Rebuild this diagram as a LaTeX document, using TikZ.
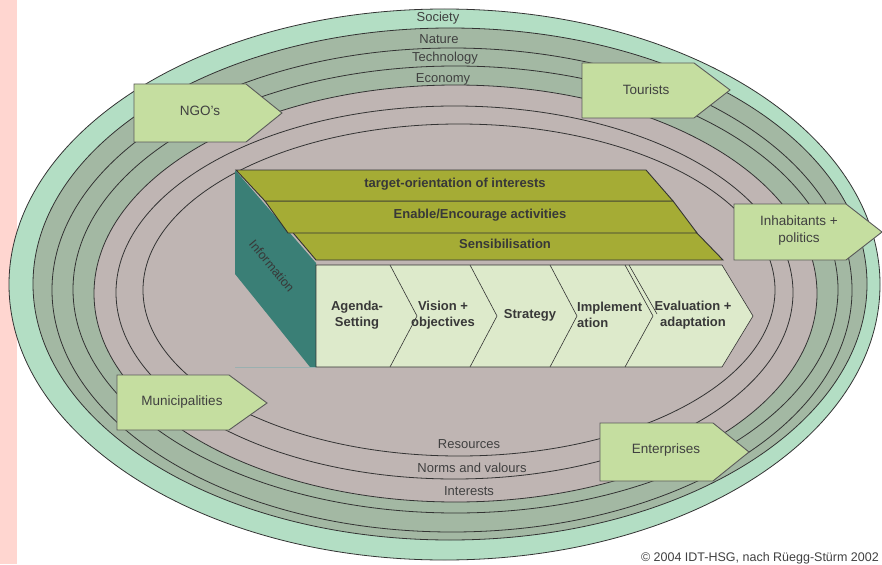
\documentclass[tikz,border=0pt]{standalone}
\usepackage{fontspec}
\setmainfont{Liberation Sans}
\definecolor{pinkstrip}{HTML}{FFD6D0}
\definecolor{ringlight}{HTML}{B3DEC4}
\definecolor{ringdark}{HTML}{A3B8A3}
\definecolor{ringgray}{HTML}{BFB5B3}
\definecolor{boxfill}{HTML}{C5DEA0}
\definecolor{boxline}{HTML}{5A5A5A}
\definecolor{olivefill}{HTML}{A5AC35}
\definecolor{tealfill}{HTML}{3A7F76}
\definecolor{chevfill}{HTML}{DDEACB}
\definecolor{txt}{HTML}{404040}
\definecolor{txtb}{HTML}{383838}
\definecolor{baseclr}{HTML}{9AB0B0}
\begin{document}
\begin{tikzpicture}[x=1pt,y=-1pt,
  ring/.style={draw=black!80,line width=0.8pt},
  lbl/.style={text=txt,font=\fontsize{13}{15}\selectfont,inner sep=0pt},
  arrowbox/.style={draw=boxline,fill=boxfill,line width=0.9pt},
  boxlbl/.style={text=txt,font=\fontsize{13.5}{17}\selectfont,align=center,inner sep=0pt},
  layer/.style={draw=black!80,fill=olivefill,line width=0.9pt},
  boldlbl/.style={text=txtb,font=\bfseries\fontsize{13}{16}\selectfont,align=center,inner sep=0pt},
  chevline/.style={draw=black!80,line width=0.6pt}]

\useasboundingbox (0,0) rectangle (882,564);
\fill[pinkstrip] (0,0) rectangle (17,564);

% rings
\path[ring,fill=ringlight] (444.5,284.5) ellipse [x radius=435.5, y radius=275.5];
\path[ring,fill=ringdark]  (450,284) ellipse [x radius=417, y radius=256];
\path[ring,fill=ringdark]  (452,290) ellipse [x radius=400, y radius=242];
\path[ring,fill=ringdark]  (455.5,289.5) ellipse [x radius=382.5, y radius=223.5];
\path[ring,fill=ringgray]  (455.5,293.5) ellipse [x radius=361.5, y radius=208.5];
\path[ring,fill=ringgray]  (454.5,292.5) ellipse [x radius=338.5, y radius=186.5];
\path[ring,fill=ringgray]  (459,290) ellipse [x radius=316, y radius=166];

% ring labels
\node[lbl] (society) at (438,18) {Society};
\node[lbl] (nature) at (439,39) {Nature};
\node[lbl] (technology) at (445,58) {Technology};
\node[lbl] (economy) at (443,79) {Economy};
\node[lbl] (resources) at (469,444) {Resources};
\node[lbl] (norms) at (472,468) {Norms and valours};
\node[lbl] (interests) at (469,491) {Interests};

% information side
\fill[tealfill] (235,170) -- (316,263) -- (316,367) -- (310,367) -- (235,274) -- cycle;
\draw[draw=baseclr,line width=0.8pt] (235,367) -- (316,367);
\node[text=txtb,font=\fontsize{12.5}{15}\selectfont,rotate=-50,inner sep=0pt] (info) at (272,266) {Information};

% olive layers
\path[layer] (289,228) -- (692,228) -- (723,260) -- (316,260) -- cycle;
\path[layer] (265,201) -- (673,201) -- (697,233) -- (288,233) -- cycle;
\path[layer] (236,170) -- (646,170) -- (673,201) -- (265,201) -- cycle;
\node[boldlbl] (target) at (455,184) {target-orientation of interests};
\node[boldlbl] (enable) at (480,215) {Enable/Encourage activities};
\node[boldlbl] (sensi) at (505,244) {Sensibilisation};

% chevrons
\path[chevline,fill=chevfill] (316,265) -- (722,265) -- (753,316) -- (722,367) -- (316,367) -- cycle;
\draw[chevline] (390,265) -- (417,316) -- (390,367);
\draw[chevline] (470,265) -- (497,316) -- (470,367);
\draw[chevline] (550,265) -- (577,316) -- (550,367);
\draw[chevline] (625,265) -- (653,316) -- (625,367);
\draw[chevline] (629,265) -- (657,314);
\node[boldlbl] (agenda) at (357,315) {Agenda-\\Setting};
\node[boldlbl] (vision) at (443,315) {Vision +\\objectives};
\node[boldlbl] (strategy) at (530,315) {Strategy};
\node[boldlbl,align=left,anchor=west] (implement) at (577,315) {Implement\\ation};
\node[boldlbl] (evaluation) at (693,315) {Evaluation +\\adaptation};

% actor arrows
\path[arrowbox] (134,84) -- (246,84) -- (282,113) -- (246,142) -- (134,142) -- cycle;
\node[boxlbl] (ngo) at (200,111) {NGO's};
\path[arrowbox] (582,63) -- (694,63) -- (730,90) -- (694,118) -- (582,118) -- cycle;
\node[boxlbl] (tourists) at (646,90) {Tourists};
\path[arrowbox] (734,204) -- (846,204) -- (882,232) -- (846,260) -- (734,260) -- cycle;
\node[boxlbl] (inhab) at (799,231) {Inhabitants +\\politics};
\path[arrowbox] (117,375) -- (229,375) -- (267,403) -- (229,430) -- (117,430) -- cycle;
\node[boxlbl] (munic) at (182,402) {Municipalities};
\path[arrowbox] (600,423) -- (713,423) -- (749,452) -- (713,481) -- (600,481) -- cycle;
\node[boxlbl] (enter) at (666,450) {Enterprises};

\node[text=txt,font=\fontsize{12.5}{15}\selectfont,inner sep=0pt,anchor=east] (copy) at (879,558) {© 2004 IDT-HSG, nach Rüegg-Stürm 2002};
\end{tikzpicture}
\end{document}
